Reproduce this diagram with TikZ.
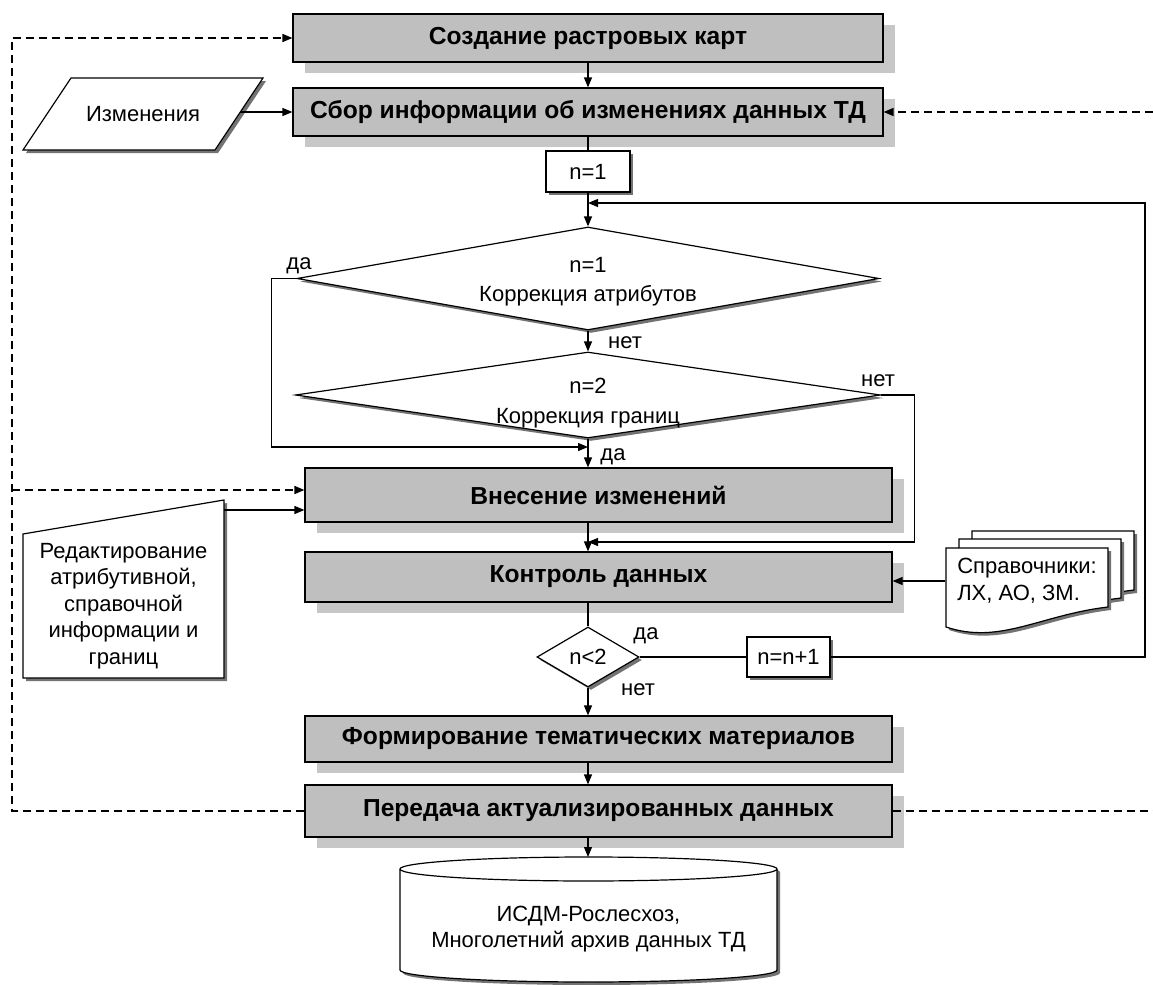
\documentclass[tikz,border=0pt]{standalone}
\usepackage{fontspec}
\setmainfont{Liberation Sans}
\usetikzlibrary{shapes.geometric,shadows,arrows.meta}

\begin{document}
\begin{tikzpicture}
	[
	x=0.5pt, y=-0.5pt,
	font=\fontsize{11pt}{13pt}\selectfont,
	line width=0.6pt,
	arr/.style={-{Triangle[length=5pt,width=4pt]}},
	fb/.style={dash pattern=on 4pt off 2.5pt, line width=0.8pt},
	procbox/.style={draw, fill=black!25, inner sep=0pt,
		font=\fontsize{12.3pt}{14pt}\selectfont\bfseries,
		general shadow={fill=black!22, shadow xshift=6pt, shadow yshift=-5.5pt}},
	whitebox/.style={draw, fill=white, inner sep=0pt,
		general shadow={fill=black!55, shadow xshift=1.5pt, shadow yshift=-1.5pt}},
	decision/.style={whitebox, diamond},
	]
		\useasboundingbox (0,0) rectangle (1153,985);
		
		% main processes
		\node[procbox, minimum width=295pt, minimum height=24pt] (create) at (588,38) {Создание растровых карт};
		\node[procbox, minimum width=295pt, minimum height=24pt] (collect) at (588,112) {Сбор информации об изменениях данных ТД};
		\node[procbox, minimum width=293.5pt, minimum height=27pt] (apply) at (598.5,495) {Внесение изменений};
		\node[procbox, minimum width=293.5pt, minimum height=25pt] (check) at (598.5,577) {Контроль данных};
		\node[procbox, minimum width=293.5pt, minimum height=23pt] (form) at (598.5,739) {Формирование тематических материалов};
		\node[procbox, minimum width=293.5pt, minimum height=26pt] (send) at (598.5,811) {Передача актуализированных данных};
		
		% counter
		\node[whitebox, minimum width=42pt, minimum height=20.5pt] (n1) at (588,171.5) {n=1};
		\node[whitebox, minimum width=41.5pt, minimum height=20pt] (ninc) at (788.5,657) {n=n+1};
		
		% decisions
		\node[decision, minimum width=291pt, minimum height=51.5pt,
			label={[align=center, yshift=-1.5pt, font=\fontsize{11pt}{14.5pt}\selectfont]center:n=1\\Коррекция атрибутов}] (attr) at (588,278.5) {};
		\node[decision, minimum width=292.5pt, minimum height=43pt,
			label={[align=center, yshift=-4pt, font=\fontsize{11pt}{15pt}\selectfont]center:n=2\\Коррекция границ}] (bound) at (588,395) {};
		\node[decision, aspect=1.7, minimum width=51pt, minimum height=30pt] (cnt) at (588,657) {n<2};
		
		% inputs
		\draw[whitebox] (71,78) -- (263,78) -- (215,150) -- (23,150) -- cycle;
		\node (changes) at (143,114) {Изменения};
		\coordinate (chgout) at (240,112);
		\draw[whitebox] (23,534) -- (224,500) -- (224,678) -- (23,678) -- cycle;
		\node[align=center, font=\fontsize{11pt}{13.25pt}\selectfont] (edit) at (123.5,606)
			{Редактирование\\атрибутивной,\\справочной\\информации и\\границ};
		\coordinate (editout) at (224,510);
		\foreach \dx/\dy in {26/-17, 13/-9, 0/0}
			\draw[whitebox, shift={(\dx,\dy)}] (946,548) -- (1108,548) -- (1108,607)
				.. controls (1040,615) and (1000,645) .. (946,627) -- cycle;
		\node[align=left, minimum width=81pt, font=\fontsize{11pt}{13.5pt}\selectfont] (refs) at (1027,581) {Справочники:\\ЛХ, АО, ЗМ.};
		
		% archive
		\draw[whitebox] (400,869) -- (400,970) arc[start angle=180, end angle=0, x radius=188.5, y radius=12]
			-- (777,869) arc[start angle=0, end angle=-180, x radius=188.5, y radius=12] -- cycle;
		\draw (400,869) arc[start angle=180, end angle=0, x radius=188.5, y radius=12];
		\node[align=center] (arch) at (588.5,929) {ИСДМ-Рослесхоз,\\Многолетний архив данных ТД};
		\coordinate (archtop) at (588,857);
		
		% branch labels
		\node (yes1) at (299,266) {да};
		\node (no1) at (625,343) {нет};
		\node (no2) at (878,381) {нет};
		\node (yes2) at (613,457) {да};
		\node (yes3) at (646,636) {да};
		\node (no3) at (638,690) {нет};
		
		% main flow
		\draw (collect) -- (n1);
		\foreach \from/\to in {create/collect,n1/attr,attr/bound} \draw[arr] (\from.south) -- (\to.north);
		\draw[arr] (bound.south) -- (bound.south |- apply.north);
		\draw[arr] (bound.south |- apply.south) -- (bound.south |- check.north);
		\draw (cnt.north |- check.south) -- (cnt.north);
		\draw[arr] (cnt.south) -- (cnt.south |- form.north);
		\draw[arr] (cnt.south |- form.south) -- (cnt.south |- send.north);
		\draw[arr] (cnt.south |- send.south) -- (archtop);
		
		% branches
		\coordinate (yesin) at (588,447);
		\coordinate (noin) at (588,542);
		\coordinate (loop) at (1145,203);
		\draw[arr] (attr.west) -- ++(-25,0) |- (yesin);
		\draw[arr] (bound.east) -- ++(33,0) |- (noin);
		\draw (cnt.east) -- (ninc.west);
		\draw[arr] (ninc.east) -| (loop) -- (loop -| n1.south);
		
		% side inputs
		\draw[arr] (chgout) -- (chgout -| collect.west);
		\draw[arr] (editout) -- (editout -| apply.west);
		\draw[arr] (refs.west) -- (refs.west -| check.east);
		
		% feedback
		\coordinate (fbtop) at (12,38);
		\coordinate (fbmid) at (12,490);
		\coordinate (fbright) at (1153,811);
		\coordinate (fbin) at (1153,112);
		\draw[fb, arr] (send.west) -| (fbtop) -- (create.west);
		\draw[fb, arr] (fbmid) -- (fbmid -| apply.west);
		\draw[fb] (send.east) -- (fbright);
		\draw[fb, arr] (fbin) -- (collect.east);
		
	\end{tikzpicture}
\end{document}
